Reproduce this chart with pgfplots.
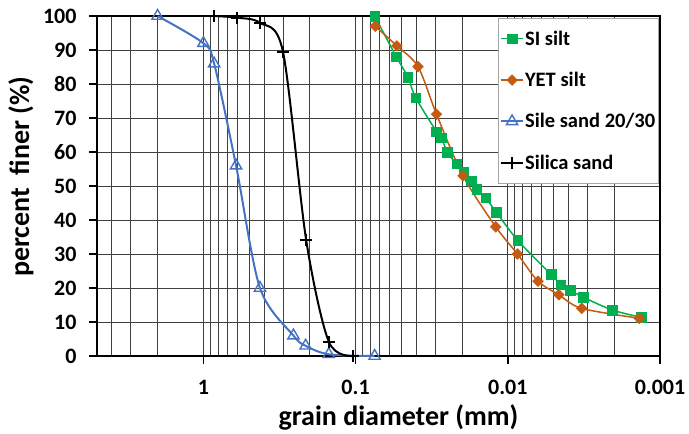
\documentclass[border=0pt]{standalone}
\usepackage{pgfplots}
\pgfplotsset{compat=1.18}
\usepackage{fontspec}
\setmainfont{Carlito}
\definecolor{cgreen}{HTML}{00B050}
\definecolor{corange}{HTML}{C55A11}
\definecolor{cblue}{HTML}{4472C4}
\begin{document}
\begin{tikzpicture}
\path[use as bounding box] (-97pt,-78pt) rectangle (592pt,356pt);
\begin{axis}[
  at={(0pt,0pt)}, anchor=south west,
  scale only axis, width=563pt, height=340pt,
  xmode=log, x dir=reverse, xmin=0.001, xmax=5,
  ymin=0, ymax=100,
  xtick={1,0.1,0.01,0.001}, xticklabels={1,0.1,0.01,0.001},
  minor xtick={2,3,4,5,0.2,0.3,0.4,0.5,0.6,0.7,0.8,0.9,0.02,0.03,0.04,0.05,0.06,0.07,0.08,0.09,0.002,0.003,0.004,0.005,0.006,0.007,0.008,0.009},
  ytick={0,10,...,100},
  grid=both,
  major grid style={black!75, line width=0.8pt},
  minor grid style={black!75, line width=0.8pt},
  tick align=outside, major tick length=8pt, minor tick length=0pt,
  xtick pos=lower, ytick pos=left,
  tick style={black, line width=1.5pt},
  axis line style={line width=2pt},
  /pgf/number format/assume math mode=true,
  ticklabel style={font=\bfseries\fontsize{22}{22}\selectfont},
  xticklabel style={yshift=-13pt},
  yticklabel style={xshift=-9pt},
  label style={font=\bfseries\fontsize{28}{28}\selectfont},
  xlabel={grain diameter (mm)},
  ylabel={percent\ \ finer (\%)},
  xlabel style={at={(axis description cs:0.5355,0)}, anchor=base, yshift=-70pt},
  ylabel style={at={(axis description cs:-0.135,0.528)}, anchor=center},
  clip=false,
  legend cell align=left,
  legend image code/.code={\draw[#1, mark repeat=2, mark phase=2] plot coordinates {(0pt,0pt) (11pt,0pt) (22pt,0pt)};},
  legend style={at={(rel axis cs:0.997,0.994)}, anchor=north east, draw=black!35, fill=white,
    font=\bfseries\fontsize{20.5}{20.5}\selectfont, row sep=23.5pt, inner xsep=2pt, inner ysep=11.5pt,
    nodes={inner sep=1pt}},
]
\addplot[cgreen, line width=1.5pt, smooth, mark=square*, mark size=4.8pt, mark options={solid, fill=cgreen, draw=cgreen, line width=0.5pt}] coordinates {
(0.075,100) (0.054,88) (0.0453,82) (0.0403,76) (0.0294,66) (0.0273,64.2) (0.025,60) (0.0217,56.5) (0.0195,54.2) (0.0174,51.5) (0.016,49) (0.014,46.5) (0.0119,42.3) (0.0086,34) (0.0052,24) (0.0045,21) (0.0039,19.4) (0.0032,17.3) (0.00205,13.5) (0.00133,11.4)
};
\addlegendentry{SI silt}
\addplot[corange, line width=1.5pt, smooth, mark=square*, mark size=3.8pt, mark options={solid, rotate=45, fill=corange, draw=corange, line width=0.5pt}] coordinates {
(0.0743,97) (0.0535,91.2) (0.0389,85.1) (0.0294,71.1) (0.0197,53) (0.012,38) (0.00864,30) (0.00633,22) (0.00462,18) (0.00327,14) (0.00137,11.1)
};
\addlegendentry{YET silt}
\addplot[cblue, line width=2pt, smooth, mark=triangle, mark size=6.5pt, mark options={solid, draw=cblue, fill=white, line width=1.4pt}] coordinates {
(2,100) (1,92) (0.85,86) (0.61,56) (0.425,20) (0.256,6) (0.213,3) (0.15,0.5) (0.075,0)
};
\addlegendentry{Sile sand 20/30}
\addplot[black, line width=2pt, smooth, mark=+, mark size=6pt, mark options={solid, line width=2.2pt}] coordinates {
(0.85,100) (0.60,99.5) (0.425,98) (0.30,89.5) (0.211,34) (0.15,4.2) (0.104,0)
};
\addlegendentry{Silica sand}
\end{axis}
\end{tikzpicture}
\end{document}
